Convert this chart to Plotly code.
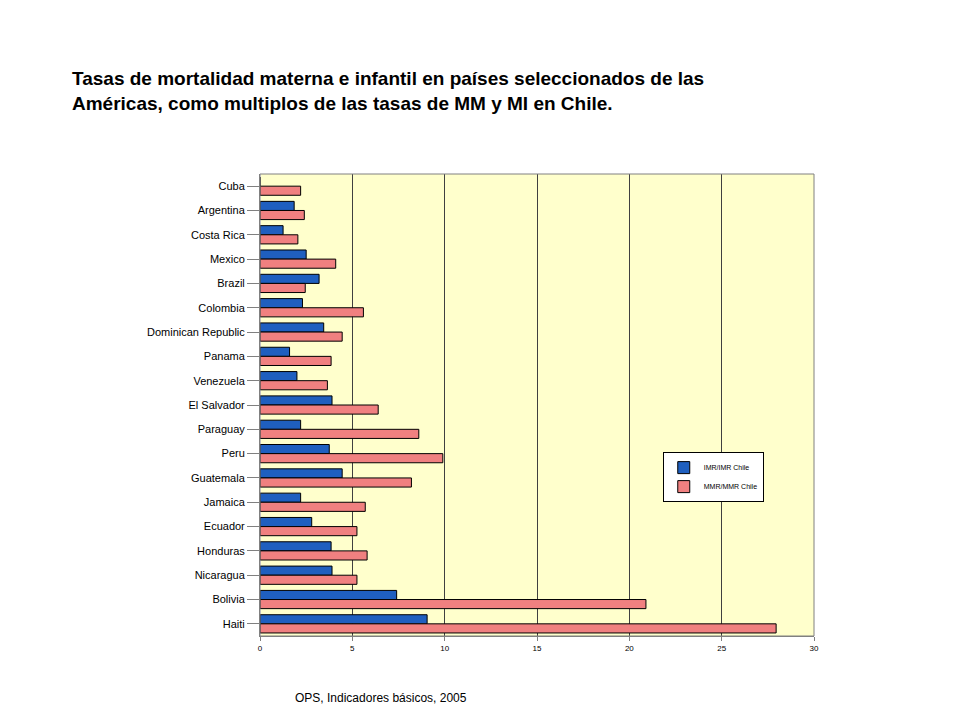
import plotly.graph_objects as go

countries = ["Cuba","Argentina","Costa Rica","Mexico","Brazil","Colombia","Dominican Republic",
             "Panama","Venezuela","El Salvador","Paraguay","Peru","Guatemala","Jamaica","Ecuador",
             "Honduras","Nicaragua","Bolivia","Haiti"]
imr = [0, 1.85, 1.25, 2.5, 3.2, 2.3, 3.45, 1.6, 2.0, 3.9, 2.2, 3.75, 4.45, 2.2, 2.8, 3.85, 3.9, 7.4, 9.05]
mmr = [2.2, 2.4, 2.05, 4.1, 2.45, 5.6, 4.45, 3.85, 3.65, 6.4, 8.6, 9.9, 8.2, 5.7, 5.25, 5.8, 5.25, 20.9, 27.95]

fig = go.Figure()
fig.add_bar(y=countries, x=imr, orientation="h", name="IMR/IMR Chile",
            marker=dict(color="#1F5FBF", line=dict(color="black", width=1)))
fig.add_bar(y=countries, x=mmr, orientation="h", name="MMR/MMR Chile",
            marker=dict(color="#F08080", line=dict(color="black", width=1)))

fig.update_layout(
    width=960, height=720, paper_bgcolor="white", plot_bgcolor="#FFFFCC",
    barmode="group", bargap=0.25, bargroupgap=0,
    margin=dict(l=252, r=154, t=166, b=92, autoexpand=False),
    font=dict(family="Liberation Sans, Arial", color="black"),
    xaxis=dict(range=[0, 30], dtick=5, showgrid=True, gridcolor="#404040", gridwidth=1,
               showline=True, linecolor="#808080", ticks="outside", ticklen=4,
               tickcolor="#808080", tickfont=dict(size=8), automargin=False),
    yaxis=dict(autorange="reversed", showline=True, linecolor="#808080", ticks="outside",
               ticklen=12, tickcolor="#808080", tickfont=dict(size=11), showgrid=False,
               automargin=False),
    legend=dict(x=0.727, y=0.398, xanchor="left", yanchor="top", bgcolor="white",
                bordercolor="black", borderwidth=1, font=dict(size=7), traceorder="normal",
                tracegroupgap=0, itemwidth=30),
    showlegend=True,
)
fig.update_layout(shapes=[dict(type="rect", xref="paper", yref="paper", x0=0, x1=1, y0=0, y1=1,
                               line=dict(color="#808080", width=1))])
fig.add_annotation(text="<b>Tasas de mortalidad materna e infantil en países seleccionados de las<br>Américas, como multiplos de las tasas de MM y MI en Chile.</b>",
                   xref="paper", yref="paper", x=-0.343, y=1.125, xanchor="left", yanchor="bottom",
                   showarrow=False, align="left", font=dict(size=19))
fig.add_annotation(text="OPS, Indicadores básicos, 2005", xref="paper", yref="paper",
                   x=0.06, y=-0.115, xanchor="left", yanchor="top", showarrow=False,
                   font=dict(size=12))
fig.write_html("out.html")
